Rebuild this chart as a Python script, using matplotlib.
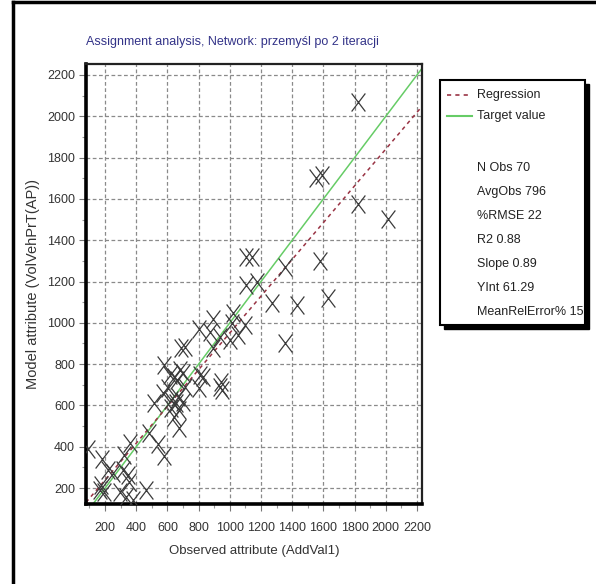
import matplotlib
matplotlib.use('Agg')
import matplotlib.pyplot as plt
import numpy as np
from matplotlib.path import Path
from matplotlib.patches import Rectangle
from matplotlib.lines import Line2D

plt.rcParams['font.family'] = ['Liberation Sans', 'DejaVu Sans']

# observed (AddVal1) vs model (VolVehPrT(AP)) values
observed = [1820, 1555, 1590, 1820, 2015, 1580, 1630, 1105, 1145, 1355,
            1105, 1175, 1270, 1430, 1355, 1020, 893, 805, 875, 940,
            1000, 1050, 1097, 1015, 893, 945, 935, 828, 690, 710,
            578, 642, 700, 605, 572, 514, 623, 668, 655, 700,
            623, 674, 642, 674, 482, 540, 578, 357, 320, 91,
            178, 219, 251, 315, 347, 165, 194, 174, 293, 354,
            335, 460, 380, 803, 715, 808, 681, 617, 662, 950]
modelled = [2070, 1700, 1715, 1575, 1505, 1300, 1120, 1320, 1320, 1270,
            1185, 1200, 1095, 1085, 900, 1050, 1020, 970, 955, 930,
            917, 941, 989, 1000, 880, 715, 690, 737, 880, 885,
            796, 737, 757, 684, 660, 612, 626, 641, 612, 617,
            587, 578, 544, 491, 465, 415, 355, 418, 358, 390,
            340, 290, 273, 287, 263, 190, 180, 215, 181, 229,
            157, 190, 142, 684, 690, 747, 771, 747, 723, 674]

reg_slope = 0.89
reg_int = 61.29
stats = ['N Obs 70', 'AvgObs 796', '%RMSE 22', 'R2 0.88', 'Slope 0.89',
         'YInt 61.29', 'MeanRelError% 15']
ticks = [200, 400, 600, 800, 1000, 1200, 1400, 1600, 1800, 2000, 2200]
xmin, xmax = 78, 2232
ymin, ymax = 123, 2253

W, H = 596, 584
fig = plt.figure(figsize=(W / 100, H / 100), dpi=100)


def fx(px):
    return px / W


def fy(py):
    return 1 - py / H


ax = fig.add_axes([fx(86), fy(504), fx(422) - fx(86), fy(64) - fy(504)])

cross = Path([(-0.38, -0.5), (0.38, 0.5), (-0.38, 0.5), (0.38, -0.5)],
             [Path.MOVETO, Path.LINETO, Path.MOVETO, Path.LINETO])
ax.plot(observed, modelled, linestyle='none', marker=cross, markersize=13,
        markeredgecolor='#3a3a3a', markeredgewidth=0.9, zorder=3)

xs = np.array([xmin, xmax])
ax.plot(xs, xs, color='#66cc66', lw=1.1, zorder=2)
ax.plot(xs, reg_slope * xs + reg_int, color='#993344', lw=1.1,
        linestyle=(0, (2.5, 2.5)), zorder=2)

ax.set_xlim(xmin, xmax)
ax.set_ylim(ymin, ymax)
ax.set_xticks(ticks)
ax.set_yticks(ticks)
ax.set_xticks(np.arange(100, 2300, 100), minor=True)
ax.set_yticks(np.arange(200, 2300, 100), minor=True)
ax.grid(True, which='major', color='#8a8a8a', lw=0.9, linestyle=(0, (3, 2)))
ax.tick_params(which='major', direction='out', length=5, width=0.8,
               color='#777777', labelsize=9, labelcolor='#333333', pad=3)
ax.tick_params(axis='x', which='major', pad=8)
ax.tick_params(which='minor', direction='out', length=3, width=0.8, color='#999999')
for s in ['left', 'bottom']:
    ax.spines[s].set_linewidth(2.6)
    ax.spines[s].set_color('black')
for s in ['top', 'right']:
    ax.spines[s].set_linewidth(1.6)
    ax.spines[s].set_color('#222222')

ax.set_xlabel('Observed attribute (AddVal1)', fontsize=9.5, labelpad=8, color='#333333')
ax.set_ylabel('Model attribute (VolVehPrT(AP))', fontsize=10.5, labelpad=5, color='#333333')
fig.text(fx(86), fy(42), 'Assignment analysis, Network: przemyśl po 2 iteracji',
         color='#333388', fontsize=9, va='center', ha='left')

# legend box with shadow
fig.patches.append(Rectangle((fx(444), fy(329)), fx(145), fy(80) - fy(325),
                             transform=fig.transFigure, facecolor='black',
                             edgecolor='black', zorder=1))
fig.patches.append(Rectangle((fx(440), fy(325)), fx(145), fy(80) - fy(325),
                             transform=fig.transFigure, facecolor='white',
                             edgecolor='black', lw=1.5, zorder=2))
fig.lines.append(Line2D([fx(447), fx(472)], [fy(95), fy(95)], transform=fig.transFigure,
                        color='#993344', lw=1.2, linestyle=(0, (2.5, 2.5)), zorder=4))
fig.lines.append(Line2D([fx(447), fx(472)], [fy(116), fy(116)], transform=fig.transFigure,
                        color='#66cc66', lw=1.5, zorder=4))
fig.text(fx(477), fy(95), 'Regression', fontsize=9, va='center', zorder=4, color='#222222')
fig.text(fx(477), fy(116), 'Target value', fontsize=9, va='center', zorder=4, color='#222222')
for i, s in enumerate(stats):
    fig.text(fx(477), fy(168 + i * 24), s, fontsize=9, va='center', zorder=4, color='#222222')

# outer frame (left and top edges)
fig.lines.append(Line2D([fx(13), fx(13)], [fy(2), fy(584)], transform=fig.transFigure,
                        color='black', lw=2.5))
fig.lines.append(Line2D([fx(13), fx(596)], [fy(2), fy(2)], transform=fig.transFigure,
                        color='black', lw=2.5))

fig.savefig('out.png', dpi=100)
